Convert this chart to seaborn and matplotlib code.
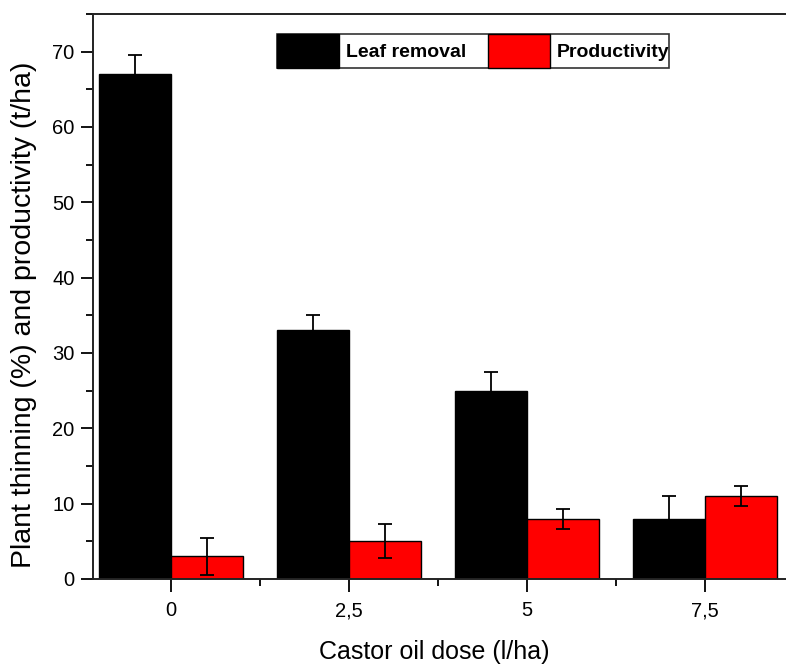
import matplotlib
matplotlib.use("Agg")
import matplotlib.pyplot as plt
import seaborn as sns
import pandas as pd
import numpy as np
from matplotlib.ticker import MultipleLocator, FixedLocator

sns.set_style("ticks")
plt.rcParams['font.family'] = ['Liberation Sans', 'DejaVu Sans']
plt.rcParams['text.color'] = 'black'
plt.rcParams['axes.labelcolor'] = 'black'
plt.rcParams['xtick.color'] = 'black'
plt.rcParams['ytick.color'] = 'black'

doses = ["0", "2,5", "5", "7,5"]
leaf_removal = [67, 33, 25, 8]
leaf_err = [2.6, 2.0, 2.5, 3.0]
productivity = [3, 5, 8, 11]
prod_err = [2.5, 2.25, 1.35, 1.3]
series = ["Leaf removal", "Productivity"]
colors = ["#000000", "#ff0000"]

df = pd.DataFrame({
    "dose": doses * 2,
    "value": leaf_removal + productivity,
    "series": [series[0]] * 4 + [series[1]] * 4,
})

fig = plt.figure(figsize=(7.86, 6.68), dpi=100)
W = 794 - 92.5
H = 579 - 14
ax = fig.add_axes([92.5/786, 89/668, W/786, H/668])

sns.barplot(data=df, x="dose", y="value", hue="series", order=doses,
            hue_order=series, palette=colors, saturation=1, width=0.81, gap=0,
            errorbar=None, edgecolor="black", linewidth=1, ax=ax, zorder=2)

for cont, errs in zip(ax.containers, [leaf_err, prod_err]):
    xs = [b.get_x() + b.get_width() / 2 for b in cont]
    ys = [b.get_height() for b in cont]
    ax.errorbar(xs, ys, yerr=errs, fmt="none", ecolor="black",
                elinewidth=1.3, capsize=5, capthick=1.3, zorder=3)

ax.set_ylim(0, 75)
ax.set_xlim(-0.44, 3.5)
ax.yaxis.set_major_locator(MultipleLocator(10))
ax.yaxis.set_minor_locator(MultipleLocator(5))
ax.xaxis.set_minor_locator(FixedLocator([0.5, 1.5, 2.5]))
ax.tick_params(axis="both", which="major", length=9, width=1.3, labelsize=14.5,
               direction="out", colors="black")
ax.tick_params(axis="both", which="minor", length=5, width=1.3, direction="out", colors="black")
ax.tick_params(axis="x", which="major", pad=7)
ax.tick_params(axis="y", which="major", pad=4)
for s in ax.spines.values():
    s.set_linewidth(1.4)
    s.set_color("#222222")

ax.set_xlabel("Castor oil dose (l/ha)", fontsize=18)
ax.set_ylabel("Plant thinning (%) and productivity (t/ha)", fontsize=20.5)
ax.xaxis.set_label_coords((434 - 92.5) / W, -(652 - 579) / H)
ax.xaxis.label.set_va("center")
ax.yaxis.set_label_coords(-(92.5 - 24) / W, (579 - 315) / H)
ax.yaxis.label.set_va("center")

leg = ax.legend(loc="upper left", bbox_to_anchor=((277 - 92.5) / W, (579 - 34) / H),
                ncol=2, frameon=True, fancybox=False, borderpad=0.0,
                handlelength=3.2, handleheight=2.3, handletextpad=0.35,
                columnspacing=1.1, borderaxespad=0,
                prop={"weight": "bold", "size": 14}, title=None)
leg.get_frame().set_edgecolor("black")
leg.get_frame().set_linewidth(1.2)
for t in leg.get_texts():
    t.set_color("black")

fig.savefig("out.png", dpi=100)
